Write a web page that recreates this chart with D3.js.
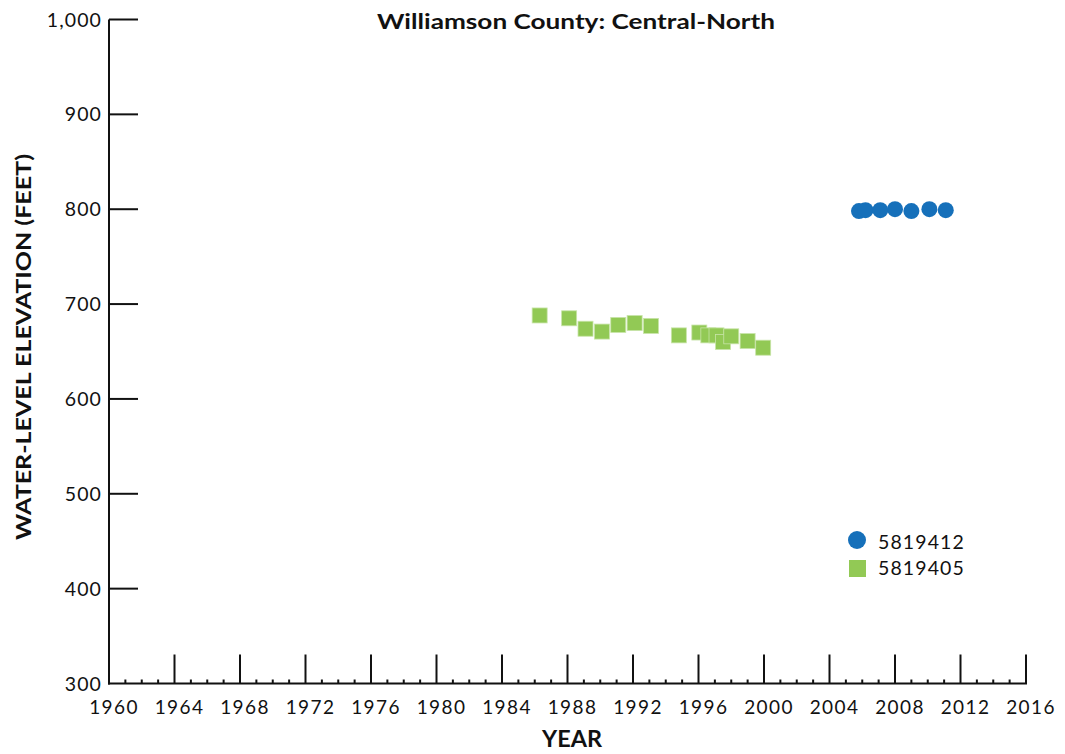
<!DOCTYPE html>
<html>
<head>
<meta charset="utf-8">
<script src="https://cdn.jsdelivr.net/npm/d3@7"></script>
<style>
  html, body { margin: 0; padding: 0; background: #ffffff; }
  svg { display: block; font-family: Lato, "Open Sans", sans-serif; }
</style>
</head>
<body>
<svg id="chart" width="1065" height="754"></svg>
<script>
// Well 5819412 (circles)
const wellAYears = [2005.8, 2006.2, 2007.1, 2008.0, 2009.0, 2010.1, 2011.1];
const wellAElev  = [798, 799, 799, 800, 798, 800, 799];

// Well 5819405 (squares)
const wellBYears = [1986.3, 1988.1, 1989.1, 1990.1, 1991.1, 1992.1, 1993.1, 1994.8,
                    1996.05, 1996.6, 1997.1, 1997.5, 1998.0, 1999.0, 1999.95];
const wellBElev  = [688, 685, 674, 671, 678, 680, 677, 667,
                    670, 667, 667, 660, 666, 661, 654];

const seriesNames = ["5819412", "5819405"];
const xTickYears = d3.range(1960, 2017, 4);
const yTickValues = [300, 400, 500, 600, 700, 800, 900, 1000];

const title = "Williamson County: Central-North";
const xTitle = "YEAR";
const yTitle = "WATER-LEVEL ELEVATION (FEET)";

const blue = "#1670ba";
const green = "#92c955";
const ink = "#111111";

const svg = d3.select("#chart");
const plotLeft = 109, plotRight = 1026, plotTop = 19.5, plotBottom = 683.5;

const x = d3.scaleLinear().domain([1960, 2016]).range([plotLeft, plotRight]);
const y = d3.scaleLinear().domain([300, 1000]).range([plotBottom, plotTop]);

// Axis lines
const axes = svg.append("g").attr("stroke", ink).attr("stroke-width", 2).attr("fill", "none");
axes.append("line").attr("x1", plotLeft).attr("x2", plotLeft).attr("y1", plotTop).attr("y2", plotBottom + 1);
axes.append("line").attr("x1", plotLeft - 1).attr("x2", plotRight + 1).attr("y1", plotBottom).attr("y2", plotBottom);

// X ticks: minor each year, major every 4 years (pointing up, inside)
const years = d3.range(1961, 2017);
axes.selectAll("line.xt").data(years).join("line")
  .attr("class", "xt")
  .attr("x1", d => x(d)).attr("x2", d => x(d))
  .attr("y1", plotBottom)
  .attr("y2", d => d % 4 === 0 ? plotBottom - 29 : plotBottom - 4);

// Y ticks (pointing right, inside)
axes.selectAll("line.yt").data(yTickValues.filter(v => v > 300)).join("line")
  .attr("class", "yt")
  .attr("x1", plotLeft).attr("x2", plotLeft + 29)
  .attr("y1", d => y(d)).attr("y2", d => y(d));

// X tick labels
svg.append("g").selectAll("text").data(xTickYears).join("text")
  .attr("x", d => x(d) + 5).attr("y", 714)
  .attr("text-anchor", "middle")
  .attr("font-size", 19).attr("letter-spacing", 1.4).attr("fill", ink)
  .text(d => d);

// Y tick labels
const fmt = d3.format(",");
svg.append("g").selectAll("text").data(yTickValues).join("text")
  .attr("x", 102).attr("y", d => y(d) + 7)
  .attr("text-anchor", "end")
  .attr("font-size", 19.5).attr("letter-spacing", 1.1).attr("fill", ink)
  .text(d => fmt(d));

// Titles
svg.append("text").attr("x", 377).attr("y", 29)
  .attr("textLength", 398).attr("lengthAdjust", "spacingAndGlyphs")
  .attr("font-size", 21).attr("font-weight", "bold").attr("fill", ink).text(title);
svg.append("text").attr("x", 542).attr("y", 747)
  .attr("textLength", 60).attr("lengthAdjust", "spacingAndGlyphs")
  .attr("font-size", 23).attr("font-weight", "bold").attr("fill", ink).text(xTitle);
svg.append("text").attr("transform", "translate(31,540) rotate(-90)")
  .attr("textLength", 386).attr("lengthAdjust", "spacingAndGlyphs")
  .attr("font-size", 21.5).attr("font-weight", "bold").attr("fill", ink).text(yTitle);

// Squares: well 5819405
const sq = 15;
svg.append("g").selectAll("rect").data(wellBYears.map((t, i) => [t, wellBElev[i]])).join("rect")
  .attr("x", d => x(d[0]) - sq / 2).attr("y", d => y(d[1]) - sq / 2)
  .attr("width", sq).attr("height", sq)
  .attr("fill", green).attr("stroke", "#c8e4a8").attr("stroke-width", 0.8);

// Circles: well 5819412
svg.append("g").selectAll("circle").data(wellAYears.map((t, i) => [t, wellAElev[i]])).join("circle")
  .attr("cx", d => x(d[0])).attr("cy", d => y(d[1])).attr("r", 8)
  .attr("fill", blue);

// Legend
const lg = svg.append("g");
lg.append("circle").attr("cx", 857).attr("cy", 540).attr("r", 9).attr("fill", blue);
lg.append("rect").attr("x", 849).attr("y", 560).attr("width", 17).attr("height", 17)
  .attr("fill", green);
lg.selectAll("text").data(seriesNames).join("text")
  .attr("x", 878).attr("y", (d, i) => 549 + i * 26)
  .attr("font-size", 19.5).attr("letter-spacing", 1.1).attr("fill", ink).text(d => d);
</script>
</body>
</html>
